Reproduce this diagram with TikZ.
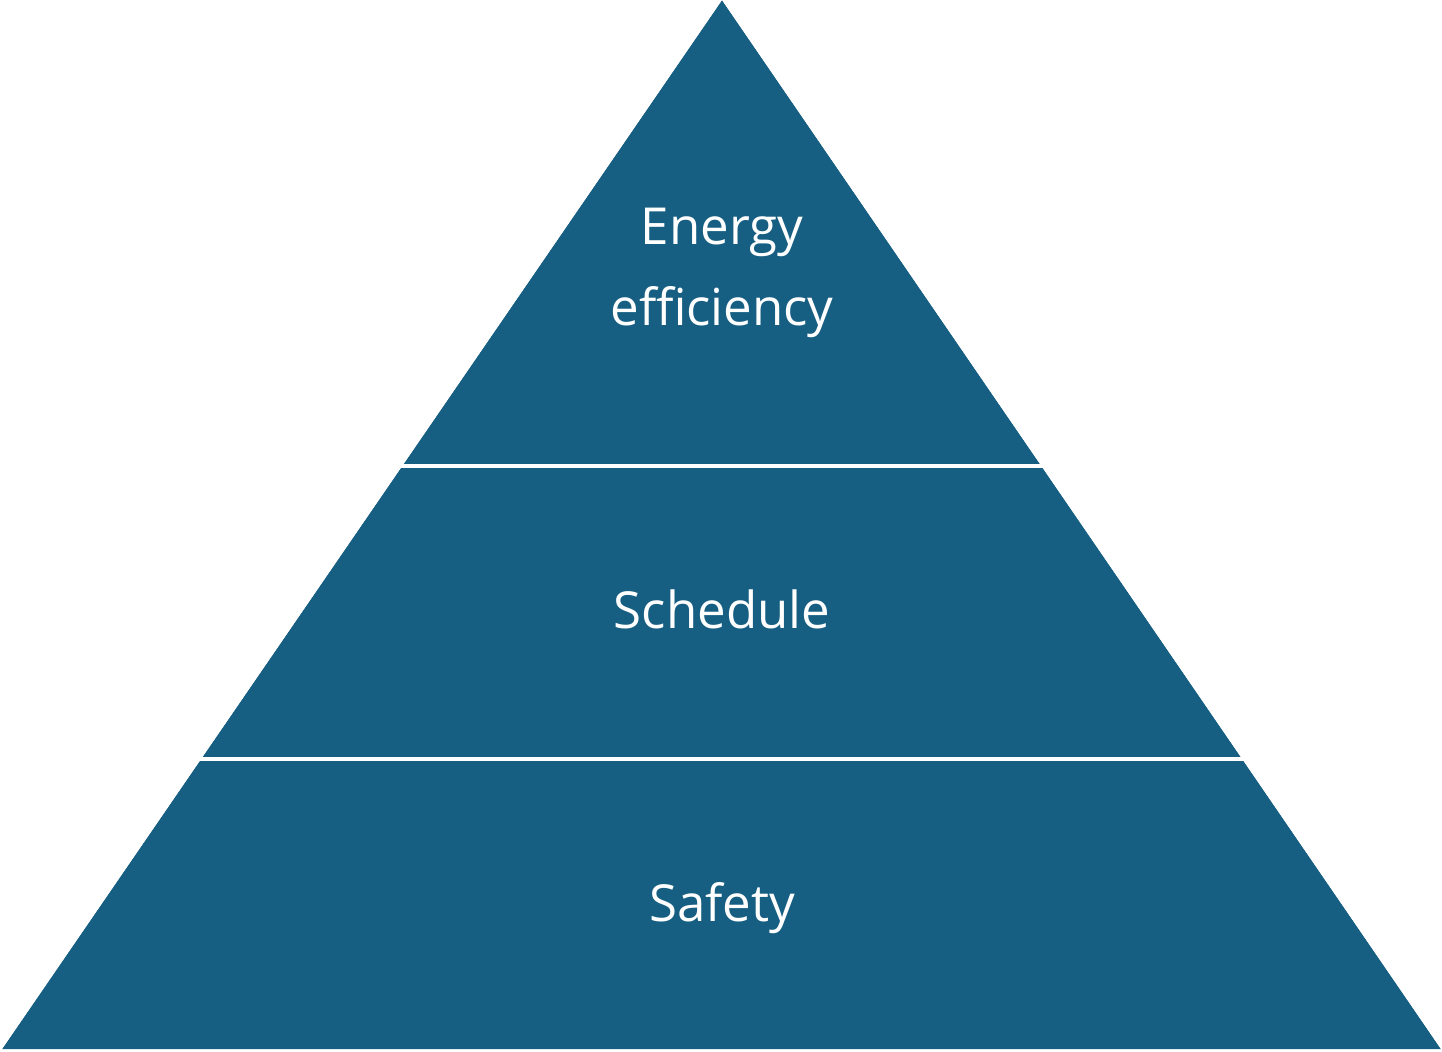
\documentclass[tikz,border=0pt]{standalone}
\usepackage{fontspec}
\setmainfont{Open Sans}
\definecolor{tier}{HTML}{175F82}
\begin{document}
\begin{tikzpicture}[x=0.5pt,y=-0.5pt,
  tierbox/.style={fill=tier,draw=none},
  gapline/.style={draw=white,line width=1.6pt},
  label/.style={text=white,font=\fontsize{25.5}{40.5}\selectfont,align=center,inner sep=0pt}]
\useasboundingbox (0,0) rectangle (1442,1051);
\fill[tier] (722,0) -- (1441,1049) -- (2,1049) -- cycle;
\draw[gapline] (300,466) -- (1142,466);
\draw[gapline] (100,759) -- (1342,759);
% mask the white lines outside the pyramid
\fill[white] (0,0) -- (722,0) -- (2,1049) -- (0,1049) -- cycle;
\fill[white] (1442,0) -- (722,0) -- (1441,1049) -- (1442,1049) -- cycle;
\node[label,anchor=base] (top) at (722,325) {Energy\\efficiency};
\node[label,anchor=base] (mid) at (722,628) {Schedule};
\node[label,anchor=base] (bot) at (722,921) {Safety};
\end{tikzpicture}
\end{document}
